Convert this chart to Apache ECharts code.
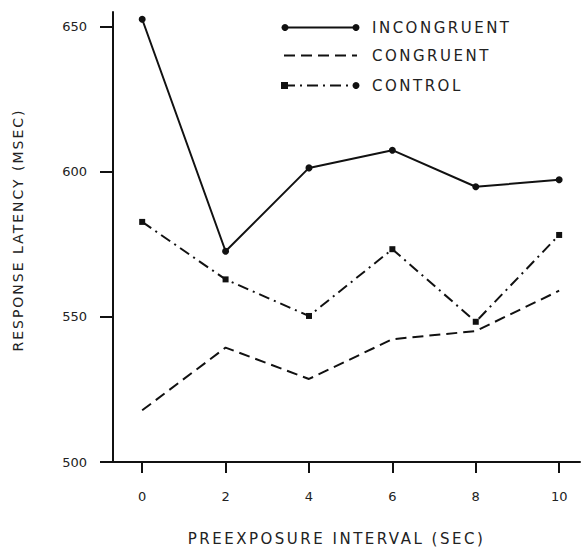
<!DOCTYPE html>
<html>
<head>
<meta charset="utf-8">
<script src="https://cdn.jsdelivr.net/npm/echarts@6/dist/echarts.min.js"></script>
<style>
  html, body { margin: 0; padding: 0; background: #fff; }
  #chart { width: 581px; height: 551px; }
  text[style*="Lato"] { letter-spacing: 2px; }
  text[style*="Roboto"] { letter-spacing: 2.5px; }
  text[style*="Inter"] { letter-spacing: 2.5px; }
</style>
</head>
<body>
<div id="chart"></div>
<script>
// ---- data ----
const intervals = [0, 2, 4, 6, 8, 10];
const incongruent = [652.5, 572.6, 601.3, 607.4, 594.8, 597.2];
const congruent   = [517.8, 539.4, 528.6, 542.3, 545.1, 559.0];
const control     = [582.7, 562.9, 550.3, 573.3, 548.3, 578.2];
const yTicks = [500, 550, 600, 650];
const xTicks = [0, 2, 4, 6, 8, 10];
const seriesNames = ['INCONGRUENT', 'CONGRUENT', 'CONTROL'];
const xTitle = 'PREEXPOSURE INTERVAL (SEC)';
const yTitle = 'RESPONSE LATENCY (MSEC)';

const INK = '#111';
const pairs = vals => intervals.map((x, i) => [x, vals[i]]);

const chart = echarts.init(document.getElementById('chart'), null, { renderer: 'svg' });

const legendRows = [
  { y: 27.5, dash: null, left: 'circle', right: 'circle' },
  { y: 55.5, dash: [11, 6], left: null, right: null },
  { y: 85.5, dash: [11, 5, 2, 5], left: 'rect', right: 'circle' }
];
const graphic = [];
legendRows.forEach((r, i) => {
  graphic.push({
    type: 'line', silent: true,
    shape: { x1: 284, y1: r.y, x2: 357, y2: r.y },
    style: { stroke: INK, lineWidth: 2, lineDash: r.dash }
  });
  if (r.left === 'circle') graphic.push({ type: 'circle', shape: { cx: 285, cy: r.y, r: 3.5 }, style: { fill: INK } });
  if (r.left === 'rect') graphic.push({ type: 'rect', shape: { x: 281, y: r.y - 3.5, width: 7, height: 7 }, style: { fill: INK } });
  if (r.right === 'circle') graphic.push({ type: 'circle', shape: { cx: 356, cy: r.y, r: 3.5 }, style: { fill: INK } });
  graphic.push({
    type: 'text', silent: true,
    style: {
      x: 372, y: r.y + 0.5, text: seriesNames[i], fill: '#222',
      font: '15px "DejaVu Sans", Inter', verticalAlign: 'middle', align: 'left'
    }
  });
});

chart.setOption({
  backgroundColor: '#fff',
  animation: false,
  grid: { left: 113, right: 1, top: 12, bottom: 86, containLabel: false },
  xAxis: {
    type: 'value', min: -0.7, max: 10.5,
    name: xTitle, nameLocation: 'middle', nameGap: 69,
    nameTextStyle: { fontSize: 15, fontFamily: '"DejaVu Sans", Roboto', color: '#222', padding: [0, 20, 0, 0] },
    axisLine: { onZero: false, lineStyle: { color: INK, width: 2 } },
    axisTick: { show: true, length: 11, lineStyle: { color: INK, width: 2 }, customValues: xTicks },
    axisLabel: { customValues: xTicks, margin: 28, fontSize: 13, fontFamily: '"DejaVu Sans"', color: '#222' },
    splitLine: { show: false }
  },
  yAxis: {
    type: 'value', min: 500, max: 655,
    name: yTitle, nameLocation: 'middle', nameGap: 88, nameRotate: 90,
    nameTextStyle: { fontSize: 14, fontFamily: '"DejaVu Sans", Lato', color: '#222', padding: [0, 0, 0, 14] },
    axisLine: { onZero: false, lineStyle: { color: INK, width: 2 } },
    axisTick: { show: true, length: 13, lineStyle: { color: INK, width: 2 }, customValues: yTicks },
    axisLabel: { customValues: yTicks, margin: 26, fontSize: 13, fontFamily: '"DejaVu Sans"', color: '#222' },
    splitLine: { show: false }
  },
  series: [
    {
      name: seriesNames[0], type: 'line', data: pairs(incongruent),
      symbol: 'circle', symbolSize: 7,
      lineStyle: { color: INK, width: 2 }, itemStyle: { color: INK }
    },
    {
      name: seriesNames[1], type: 'line', data: pairs(congruent),
      symbol: 'none',
      lineStyle: { color: INK, width: 2, type: [11, 6] }, itemStyle: { color: INK }
    },
    {
      name: seriesNames[2], type: 'line', data: pairs(control),
      symbol: 'rect', symbolSize: 6,
      lineStyle: { color: INK, width: 2, type: [11, 5, 2, 5] }, itemStyle: { color: INK }
    }
  ],
  graphic: graphic
});
</script>
</body>
</html>
